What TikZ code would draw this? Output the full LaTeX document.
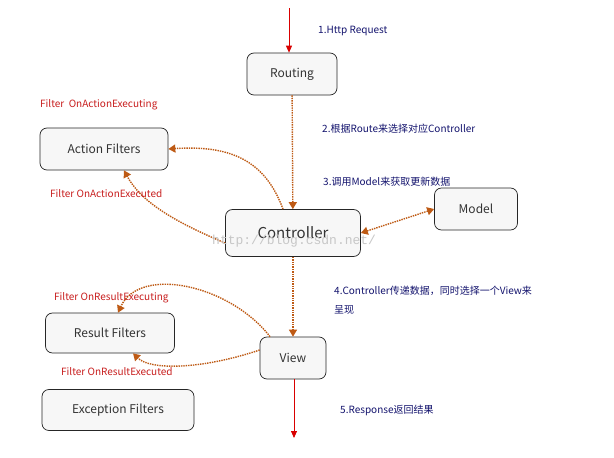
\documentclass[tikz,border=0pt]{standalone}
\usepackage{fontspec}
\setmainfont{Noto Sans CJK SC}
\newfontfamily\wmfont{Liberation Mono}
\usetikzlibrary{arrows.meta}
\definecolor{brn}{RGB}{190,90,20}
\definecolor{navy}{RGB}{20,20,110}
\definecolor{lred}{RGB}{200,30,30}
\begin{document}
\begin{tikzpicture}[x=1pt,y=-1pt,
 box/.style={draw=black!85,line width=0.7pt,rounded corners=7pt,fill=black!3,font=\fontsize{12}{14}\selectfont,text=black!80,inner sep=0pt},
 dot/.style={brn,densely dotted,line width=1.4pt,-{Triangle[length=7pt,width=8pt]}},
 red/.style={red!85!black,line width=0.8pt,-{Triangle[length=7pt,width=6pt]}},
 lab/.style={anchor=west,text=navy,font=\fontsize{10}{12}\selectfont,inner sep=0pt},
 flab/.style={anchor=west,text=lred,font=\fontsize{10}{12}\selectfont,inner sep=0pt}]
\useasboundingbox (0,0) rectangle (614,458);
\fill[white] (0,0) rectangle (614,458);
\node[box,minimum width=90,minimum height=42] (rt) at (292,74) {Routing};
\node[box,minimum width=128,minimum height=42] (af) at (104,149) {Action Filters};
\node[box,minimum width=135,minimum height=47,font=\fontsize{15}{17}\selectfont] (ct) at (293,233) {Controller};
\node[box,minimum width=83,minimum height=42] (md) at (476,209) {Model};
\node[box,minimum width=66,minimum height=42] (vw) at (293,358) {View};
\node[box,minimum width=129,minimum height=40] (rf) at (110,333) {Result Filters};
\node[box,minimum width=152,minimum height=41] (ef) at (118,410) {Exception Filters};
\coordinate (top) at (289,8);
\coordinate (bot) at (294,438);
\draw[red] (top) -- (rt.north -| top);
\draw[red] (vw.south -| bot) -- (bot);
\draw[dot] (rt) -- (ct);
\draw[dot] (ct) -- (vw);
\draw[dot,{Triangle[length=7pt,width=8pt]}-{Triangle[length=7pt,width=8pt]}] (ct.east) -- (md.west);
\draw[dot] ([xshift=-10pt]ct.north) .. controls (265,160) and (230,145) .. (af.east);
\draw[dot] ([yshift=-10pt]ct.west) .. controls (170,220) and (140,200) .. ([xshift=20pt]af.south);
\draw[dot] ([xshift=-23pt]vw.north) .. controls (230,285) and (140,265) .. ([xshift=8pt]rf.north);
\draw[dot] ([yshift=8pt]vw.west) .. controls (200,370) and (150,370) .. ([xshift=23pt]rf.south);
\node[lab] (l1) at (318,31) {1.Http Request};
\node[lab] (l2) at (322,129) {2.根据Route来选择对应Controller};
\node[lab] (l3) at (323,182) {3.调用Model来获取更新数据};
\node[lab] (l4) at (334,291) {4.Controller传递数据，同时选择一个View来};
\node[lab] (l4b) at (334,310) {呈现};
\node[lab] (l5) at (340,410) {5.Response返回结果};
\node[flab] (f1) at (40,105) {Filter\ \ OnActionExecuting};
\node[flab] (f2) at (50,194) {Filter OnActionExecuted};
\node[flab] (f3) at (54,298) {Filter OnResultExecuting};
\node[flab] (f4) at (61,372) {Filter OnResultExecuted};
\node[anchor=west,inner sep=0pt,text=black!22,font=\wmfont\fontsize{13}{14}\selectfont] (wm) at (212,241) {http://blog.csdn.net/};
\end{tikzpicture}
\end{document}
